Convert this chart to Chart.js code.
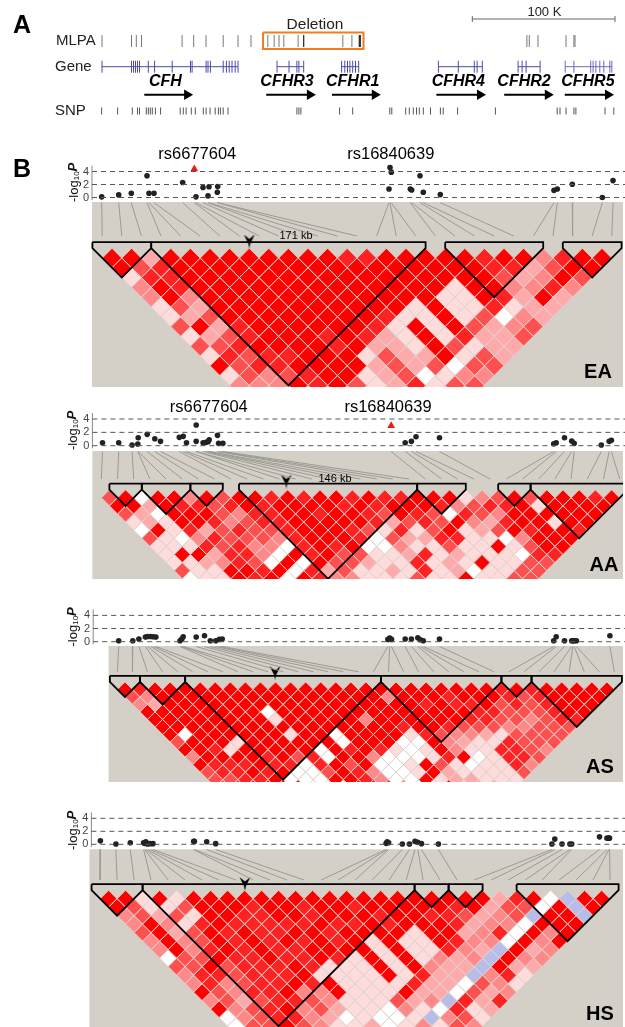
<!DOCTYPE html>
<html>
<head>
<meta charset="utf-8">
<script src="https://cdn.jsdelivr.net/npm/chart.js@4"></script>
<style>
  body { margin: 0; background: #fff; }
  canvas { display: block; filter: blur(0.35px); }
</style>
</head>
<body>
<canvas id="chart1" width="625" height="1027"></canvas>
<script>
// panel A tracks, position along the region
var mlpaPos = [102, 131.5, 136.3, 141.5, 182.1, 193.7, 206, 223.2, 238, 251, 267.8, 274.2, 279, 283.8, 298.1, 342.8, 351.9, 526.9, 529.3, 538, 566, 573.9, 575];
var mlpaDark = [303.7, 359.3, 360.3];
var snpPos = [101.6, 117.6, 132.3, 137.5, 139.5, 146.3, 148.3, 150.3, 152.3, 155.4, 160.6, 180.2, 183.3, 186.1, 191.3, 195.3, 203.3, 206.1, 210, 215.2, 218.4, 220.4, 223.2, 228, 296.9, 298.9, 300.9, 339.6, 352.7, 389.8, 391.8, 405.7, 409.3, 413.3, 416.5, 419.3, 423.3, 430.5, 440.4, 443.2, 457.6, 495.4, 557.2, 560, 566, 573.9, 575.9, 605, 613.8];
var geneNames = ['CFH', 'CFHR3', 'CFHR1', 'CFHR4', 'CFHR2', 'CFHR5'];
var geneLabelPos = [165.4, 287, 352.7, 458.3, 524, 587.9];
var arrowFrom = [144.3, 266.2, 332, 436.4, 504.2, 564.8];
var arrowTo = [192.1, 314.9, 379.8, 485, 552.8, 613];
var exons = [
  [102, 131.5, 133.5, 135.5, 137.5, 139.5, 148.3, 154.6, 172.2, 190.5, 192.1, 206.1, 208, 210.4, 223.2, 226.4, 229.2, 232, 235.2, 238],
  [277, 289, 296.9, 298.9, 303.7],
  [341.6, 344.8, 347.5, 349.9, 352.7, 355.5, 358.7],
  [438.4, 458.3, 474.3, 477.1, 482.3],
  [518.1, 522.1, 526.1, 540.1],
  [565.2, 573.9, 590.7, 593.1, 595.9, 599.8, 603.8, 609.8, 611.8]
];

// panel B: association results per population
var eaPos = [101.7, 118.7, 131.3, 147, 149, 154, 182.7, 194.3, 196, 203, 208, 209, 217.3, 217.7, 389, 390, 391.3, 410.3, 411.7, 420, 423.3, 440.3, 554, 557.3, 572.3, 602.3, 613];
var eaLogP = [0.1, 0.4, 0.65, 3.35, 0.65, 0.65, 2.3, 4.4, 0.1, 1.55, 0.25, 1.65, 0.8, 1.7, 1.3, 4.6, 3.9, 1.3, 1.15, 3.35, 0.8, 0.45, 1.1, 1.3, 2.05, 0, 2.6];
var aaPos = [102.5, 118.7, 132.1, 137.8, 138.2, 147.2, 154.8, 160.5, 179.3, 183.2, 186.5, 196.2, 196.2, 203.1, 205.9, 208.1, 209.2, 217.5, 218.6, 222.9, 391.2, 405.2, 411.4, 416, 439.5, 553.7, 556.2, 564.5, 571.7, 574.2, 601.3, 609.2, 611.4];
var aaLogP = [0.45, 0.45, 0.1, 0.25, 1.2, 1.7, 1.05, 0.65, 1.25, 1.4, 0.45, 3.1, 0.65, 0.45, 0.5, 0.6, 0.9, 1.55, 0.35, 0.35, 3, 0.45, 0.65, 1.35, 1.2, 0.3, 0.45, 1.2, 0.7, 0.35, 0.1, 0.65, 0.8];
var asPos = [118.7, 132.8, 138.9, 145.4, 147.6, 150.8, 153.3, 155.9, 180, 181.8, 183.2, 196.2, 204.5, 210.3, 215.7, 219.3, 222.2, 387.9, 389.7, 391.5, 405.2, 411.4, 417.8, 420.4, 423.3, 439.5, 553.7, 556.2, 564.5, 571.7, 572.9, 574.2, 576.4, 609.9];
var asLogP = [0.15, 0.15, 0.4, 0.7, 0.8, 0.8, 0.75, 0.7, 0.15, 0.4, 0.75, 0.7, 0.9, 0.15, 0.15, 0.35, 0.4, 0.35, 0.55, 0.35, 0.4, 0.4, 0.6, 0.3, 0.15, 0.4, 0.15, 0.75, 0.15, 0.15, 0.15, 0.15, 0.15, 0.9];
var hsPos = [100.4, 115.9, 130.3, 143.6, 144.7, 145.8, 147.6, 150.1, 153, 193.7, 194.4, 206.7, 215.7, 386.1, 387.2, 388.6, 402.3, 409.5, 415, 417.8, 421.5, 438.4, 551.9, 554.8, 562, 569.9, 571.7, 599.5, 607, 608.9, 609.5];
var hsLogP = [0.55, 0.05, 0.25, 0.25, 0.15, 0.4, 0.05, 0.1, 0.1, 0.45, 0.45, 0.4, 0.1, 0.15, 0.4, 0.25, 0.05, 0.05, 0.45, 0.3, 0.1, 0.05, 0.05, 0.8, 0.05, 0.05, 0.05, 1.15, 0.95, 0.95, 0.95];

// LD levels, one string per SNP distance: 0 = strongest red ... 5 = palest, 6 = white, 7 = blue
var eaLD = [
  '0040000000 0011000001 003100',
  '0210000000 0000000001 14200',
  '5110000000 0000000002 4302',
  '3010000000 0000005003 313',
  '3030000000 0000055014 04',
  '5240000000 0005055154 4',
  '5420000000 0155052634',
  '2041000000 150502432',
  '5421000101 45051442',
  '2210000104 4502544',
  '5121100052 440524',
  '0211000042 42622',
  '5232100542 6533',
  '3330102541 522'
];
var aaLD = [
  '2060030200 1010010110 0053202000 10',
  '0040112101 0000101000 1321105000 0',
  '2460002311 0010012012 6123000000',
  '5450013211 0000014212 034100500',
  '6051421221 0001251520 54201001',
  '2563122231 0001624411 5563000',
  '5551213361 0106635525 505200',
  '5004113601 0225541545 55611',
  '5543126060 2245515450 5522',
  '2550010614 2554515465 522',
  '6550106013 3555255055 22'
];
var asLD = [
  '0100000000 0000000000 0000010100 000',
  '2300000000 0000000300 0100012100 00',
  '3400000000 0000000001 0110212100 0',
  '0000000060 0000000000 0011222100',
  '0000000050 0000300000 011223211',
  '0000000000 0000001001 22233222',
  '0600000050 0600005123 3452222',
  '2000500000 0600066034 551222',
  '0015000006 0101565035 51123',
  '3000010216 0036665106 5112',
  '0111011610 2066502565 513',
  '2110106620 1366504555 52',
  '2211066600 1366054455 5',
  '2111006660 0136605445'
];
var hsLD = [
  '0050500000 0000000000 0004106700',
  '0255200010 0100100000 104226070',
  '3242500110 0100010011 24327007',
  '3035101111 1011010001 4336000',
  '2042010110 0100005004 316030',
  '3032010101 0105055013 36030',
  '3031010110 0005055134 7043',
  '6220110110 1505053437 033',
  '2202111015 5505034470 44',
  '3112111055 5505144731 5',
  '3132110105 5551446235',
  '0231103305 550446243',
  '3242112355 52437141',
  '0321032455 6356154',
  '6321134656 657325',
  '6220235546 53523'
];

// haplotype blocks as first and last SNP index
var eaBlocks = [[0, 2], [3, 16], [18, 22], [24, 26]];
var aaBlocks = [[1, 2], [3, 5], [6, 7], [9, 19], [20, 22], [25, 26], [27, 32]];
var asBlocks = [[0, 1], [2, 4], [5, 17], [18, 25], [26, 27], [28, 33]];
var hsBlocks = [[0, 2], [3, 18], [19, 20], [21, 22], [25, 30]];

var ldColors = ['#ff0000', '#ff2222', '#ff5050', '#ff8888', '#ffaaaa', '#ffdcdc', '#ffffff', '#b8bce8'];
var tickLabels = [0, 2, 4];

var panels = [
  { name: 'EA', pos: eaPos, logP: eaLogP, ld: eaLD, blocks: eaBlocks, hit: 7, x0: 102.2, step: 19.6, r0: 248.2,
    p0: 197.5, pUnit: 6.5, left: 92, top: 202, bottom: 387, lineTop: 202.7, lineBottom: 236, marker: [249.3, 241.5], axisX: 92 },
  { name: 'AA', pos: aaPos, logP: aaLogP, ld: aaLD, blocks: aaBlocks, hit: 20, x0: 101.3, step: 16.2, r0: 489.7,
    p0: 445.7, pUnit: 6.67, left: 92.4, top: 451, bottom: 579, lineTop: 451.5, lineBottom: 479, marker: [286.3, 481.5], axisX: 92.4 },
  { name: 'AS', pos: asPos, logP: asLogP, ld: asLD, blocks: asBlocks, hit: -1, x0: 117.4, step: 15.06, r0: 681.8,
    p0: 641.7, pUnit: 6.58, left: 108.6, top: 646, bottom: 782, lineTop: 646.5, lineBottom: 671.7, marker: [275.1, 673], axisX: 93.2 },
  { name: 'HS', pos: hsPos, logP: hsLogP, ld: hsLD, blocks: hsBlocks, hit: -1, x0: 100.1, step: 17, r0: 890.2,
    p0: 844.3, pUnit: 6.5, left: 89.5, top: 849.3, bottom: 1027, lineTop: 849.5, lineBottom: 880, marker: [244.9, 884], axisX: 91.4 }
];

var W = 625, H = 1027;
var scales = {
  x: { type: 'linear', min: 0, max: W, display: false },
  page: { type: 'linear', min: 0, max: H, reverse: true, display: false }
};
var datasets = [];

function pts(xs, y) {
  return xs.map(function (x) { return { x: x, y: y }; });
}

function ticks(xs, y, color, len, width) {
  datasets.push({ xAxisID: 'x', yAxisID: 'page', data: pts(xs, y), pointStyle: 'line', pointRotation: 90,
    pointRadius: len, borderColor: color, pointBorderColor: color, pointBorderWidth: width, order: 1 });
}

function line(data, xId, yId, color, width, dash, order, clip) {
  var d = { xAxisID: xId, yAxisID: yId, data: data, showLine: true, pointRadius: 0, borderColor: color,
    borderWidth: width, borderDash: dash || [], order: order, spanGaps: false, borderJoinStyle: 'miter', tension: 0 };
  if (clip) d.clip = clip;
  datasets.push(d);
}

// panel A
ticks(mlpaPos, 41, '#777', 6, 1);
ticks(mlpaDark, 41, '#222', 6, 1.2);
line([{ x: 263, y: 32.5 }, { x: 363.5, y: 32.5 }, { x: 363.5, y: 49 }, { x: 263, y: 49 }, { x: 263, y: 32.5 }], 'x', 'page', '#f47b20', 2, null, 1);
line([{ x: 472.3, y: 19 }, { x: 615, y: 19 }], 'x', 'page', '#666', 1, null, 1);
ticks([472.3, 615], 19, '#666', 3, 1);
ticks(snpPos, 111, '#555', 3.5, 1);
exons.forEach(function (e, i) {
  var c = i === 5 ? '#6a6ac0' : '#4a4ab0';
  line([{ x: e[0], y: 66.7 }, { x: e[e.length - 1], y: 66.7 }], 'x', 'page', c, 1, null, 1);
  ticks(e, 66.7, c, 6, 1);
  line([{ x: arrowFrom[i], y: 94.7 }, { x: arrowTo[i] - 5, y: 94.7 }], 'x', 'page', '#000', 2, null, 1);
  datasets.push({ xAxisID: 'x', yAxisID: 'page', data: [{ x: arrowTo[i] - 5, y: 94.7 }], pointStyle: 'triangle', pointRotation: 90,
    pointRadius: 6, backgroundColor: '#000', borderColor: '#000', pointBorderWidth: 0, order: 1 });
});

// chevron used as the marked block pointer
var chevron = document.createElement('canvas');
chevron.width = 12;
chevron.height = 14;
var cc = chevron.getContext('2d');
cc.fillStyle = '#000';
cc.beginPath();
cc.moveTo(0.5, 0);
cc.lineTo(6, 4.5);
cc.lineTo(11.5, 0);
cc.lineTo(7, 9);
cc.lineTo(6, 14);
cc.lineTo(5, 9);
cc.closePath();
cc.fill();

panels.forEach(function (p) {
  var snpId = 'snp' + p.name, ldId = 'ld' + p.name, pId = 'p' + p.name;
  var unit = p.step / 2;
  scales[snpId] = { type: 'linear', min: -p.x0 / p.step, max: (W - p.x0) / p.step, display: false };
  scales[ldId] = { type: 'linear', min: -p.r0 / unit, max: (H - p.r0) / unit, reverse: true, display: false };
  scales[pId] = {
    type: 'linear', min: -(H - p.p0) / p.pUnit, max: p.p0 / p.pUnit, position: { x: p.axisX - 3 },
    border: { display: false }, grid: { display: false },
    afterBuildTicks: function (axis) { axis.ticks = tickLabels.map(function (v) { return { value: v }; }); },
    // the labels sit inside the page, so this axis must not shrink the full-page area
    afterFit: function (axis) {
      axis.paddingTop = 0;
      axis.paddingBottom = 0;
    },
    ticks: { autoSkip: false, padding: 0, font: { family: 'Liberation Sans', size: 11 }, color: '#444' }
  };

  // dashed levels and axis line
  tickLabels.forEach(function (v) {
    line([{ x: p.axisX, y: v }, { x: 625, y: v }], 'x', pId, '#555', 1, [5, 4], 1);
  });
  line([{ x: p.axisX, y: -0.4 }, { x: p.axisX, y: 4.9 }], 'x', pId, '#888', 1, null, 1);

  // association points
  var plain = [], hit = [];
  p.pos.forEach(function (x, i) {
    (i === p.hit ? hit : plain).push({ x: x, y: p.logP[i] });
  });
  datasets.push({ xAxisID: 'x', yAxisID: pId, data: plain, pointRadius: 2.8, backgroundColor: '#222', borderColor: '#222', pointBorderWidth: 0, order: 1 });
  if (hit.length) {
    datasets.push({ xAxisID: 'x', yAxisID: pId, data: hit, pointStyle: 'triangle', pointRadius: 4.5, backgroundColor: '#f01818', borderColor: '#f01818', pointBorderWidth: 0, order: 1 });
  }

  // lines from genomic position to the SNP column of the LD plot
  var links = [];
  p.pos.forEach(function (x, i) {
    links.push({ x: x, y: p.lineTop }, { x: p.x0 + i * p.step, y: p.lineBottom }, { x: NaN, y: NaN });
  });
  line(links, 'x', 'page', '#9c9a92', 1, null, 2);

  // LD cells, one dataset per colour level
  var clip = { left: 0, right: -(W - 623), top: 0, bottom: -(H - p.bottom) };
  var levels = ldColors.map(function () { return []; });
  p.ld.forEach(function (row, r) {
    row.replace(/ /g, '').split('').forEach(function (ch, k) {
      levels[+ch].push({ x: k + (r + 1) / 2, y: r + 1 });
    });
  });
  levels.forEach(function (cells, lv) {
    datasets.push({ xAxisID: snpId, yAxisID: ldId, data: cells, pointStyle: 'rectRot', pointRadius: unit - 0.1,
      backgroundColor: ldColors[lv], borderColor: '#ddd3ce', pointBorderColor: '#ddd3ce', pointBorderWidth: 0.9, order: 4, clip: clip });
  });

  // haplotype block outlines
  var capTop = -6 / unit;
  p.blocks.forEach(function (b) {
    var l = b[0] - 0.5, rr = b[1] + 0.5;
    line([{ x: l, y: capTop }, { x: l, y: 0 }, { x: (b[0] + b[1]) / 2, y: b[1] - b[0] + 1 }, { x: rr, y: 0 }, { x: rr, y: capTop }, { x: l, y: capTop }],
      snpId, ldId, '#000', 1.8, null, 3, clip);
  });

  datasets.push({ xAxisID: 'x', yAxisID: 'page', data: [{ x: p.marker[0], y: p.marker[1] }], pointStyle: chevron, order: 2 });
});

var F = 'Liberation Sans';
var textMarks = [
  { t: 'A', x: 22, y: 26, font: 'bold 25px ' + F },
  { t: 'B', x: 22, y: 170, font: 'bold 25px ' + F },
  { t: 'MLPA', x: 56, y: 41, font: '15px ' + F, align: 'left', color: '#222' },
  { t: 'Gene', x: 55, y: 66.5, font: '15px ' + F, align: 'left', color: '#222' },
  { t: 'SNP', x: 55, y: 111, font: '15px ' + F, align: 'left', color: '#222' },
  { t: 'Deletion', x: 315, y: 25, font: '15.5px ' + F, color: '#222' },
  { t: '100 K', x: 544.4, y: 12, font: '13px ' + F, color: '#222' },
  { t: 'rs6677604', x: 197.3, y: 154.7, font: '16.5px ' + F },
  { t: 'rs16840639', x: 390.8, y: 154.7, font: '16.5px ' + F },
  { t: 'rs6677604', x: 208.8, y: 407.7, font: '16.5px ' + F },
  { t: 'rs16840639', x: 388, y: 407.7, font: '16.5px ' + F },
  { t: '171 kb', x: 296, y: 235.7, font: '11px ' + F },
  { t: '146 kb', x: 335, y: 479, font: '11px ' + F },
  { t: 'EA', x: 598, y: 372, font: 'bold 20px ' + F },
  { t: 'AA', x: 604, y: 565.5, font: 'bold 20px ' + F },
  { t: 'AS', x: 600, y: 767.5, font: 'bold 20px ' + F },
  { t: 'HS', x: 600, y: 1014.5, font: 'bold 20px ' + F }
];
geneNames.forEach(function (n, i) {
  textMarks.push({ t: n, x: geneLabelPos[i], y: 81.7, font: 'italic bold 16px ' + F });
});
var yLabels = [[74, 181], [73, 429], [73, 625.5], [73, 829]];

var figureParts = {
  id: 'figureParts',
  beforeDatasetsDraw: function (chart) {
    var ctx = chart.ctx;
    ctx.save();
    ctx.fillStyle = '#d4d0c8';
    panels.forEach(function (p) {
      ctx.fillRect(p.left, p.top, 623 - p.left, p.bottom - p.top);
    });
    ctx.restore();
  },
  afterDraw: function (chart) {
    var ctx = chart.ctx;
    ctx.save();
    ctx.textBaseline = 'middle';
    textMarks.forEach(function (m) {
      ctx.font = m.font;
      ctx.textAlign = m.align || 'center';
      ctx.fillStyle = m.color || '#000';
      ctx.fillText(m.t, m.x, m.y);
    });
    yLabels.forEach(function (pos) {
      ctx.save();
      ctx.translate(pos[0], pos[1] + 21);
      ctx.rotate(-Math.PI / 2);
      ctx.textAlign = 'left';
      ctx.fillStyle = '#111';
      var x = 0;
      [['-log', '13px ' + F, 0], ['10', '8px ' + F, 3], ['P', 'italic bold 13px ' + F, -1]].forEach(function (part) {
        ctx.font = part[1];
        ctx.fillText(part[0], x, part[2]);
        x += ctx.measureText(part[0]).width;
      });
      ctx.restore();
    });
    ctx.restore();
  }
};

new Chart('chart1', {
  type: 'scatter',
  data: { datasets: datasets },
  options: {
    responsive: false,
    animation: false,
    events: [],
    layout: { padding: 0, autoPadding: false },
    scales: scales,
    plugins: { legend: { display: false }, tooltip: { enabled: false }, title: { display: false } }
  },
  plugins: [figureParts]
});
</script>
</body>
</html>
